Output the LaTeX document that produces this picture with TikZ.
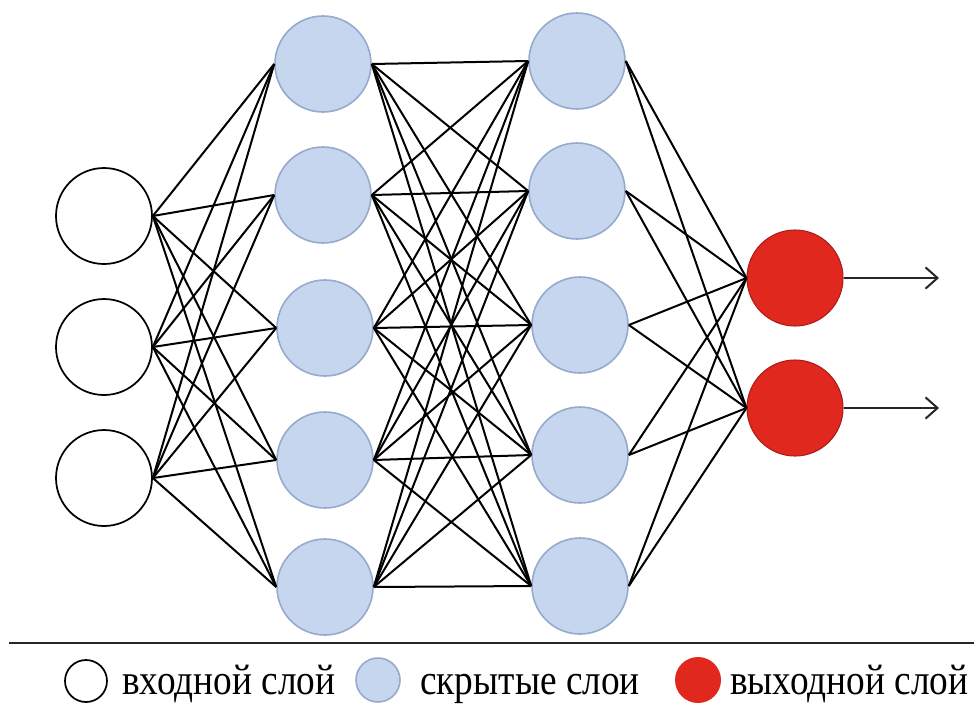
\documentclass[tikz,border=0pt]{standalone}
\usepackage{fontspec}
\usepackage{graphicx}
\setmainfont{Liberation Serif}
\usetikzlibrary{arrows.meta}
\definecolor{bluefill}{RGB}{198,214,238}
\definecolor{blueedge}{RGB}{150,170,205}
\definecolor{redfill}{RGB}{224,40,30}
\definecolor{rededge}{RGB}{170,30,25}
\begin{document}
\begin{tikzpicture}[x=0.75pt,y=-0.75pt,
  inpnode/.style={circle,draw=black,fill=white,line width=1.3pt,minimum size=72pt,inner sep=0pt},
  hidnode/.style={circle,draw=blueedge,fill=bluefill,line width=1.2pt,minimum size=72pt,inner sep=0pt},
  outnode/.style={circle,draw=rededge,fill=redfill,line width=0.8pt,minimum size=72pt,inner sep=0pt},
  conn/.style={draw=black,line width=1.5pt},
  outarrow/.style={draw=black!85,line width=1.5pt,-{Straight Barb[length=9pt,width=16pt,line width=1.5pt]}},
  legtext/.style={anchor=base west,inner sep=0pt,font=\fontsize{28}{30}\selectfont}
]
\useasboundingbox (0,0) rectangle (974,704);

% nodes
\node[inpnode] (i1) at (104,216) {};
\node[inpnode] (i2) at (104,347) {};
\node[inpnode] (i3) at (104,478) {};

\node[hidnode] (a1) at (323,64) {};
\node[hidnode] (a2) at (323,195) {};
\node[hidnode] (a3) at (325,328) {};
\node[hidnode] (a4) at (325,460) {};
\node[hidnode] (a5) at (325,587) {};

\node[hidnode] (b1) at (577,61) {};
\node[hidnode] (b2) at (577,191) {};
\node[hidnode] (b3) at (580,325) {};
\node[hidnode] (b4) at (580,455) {};
\node[hidnode] (b5) at (580,586) {};

\node[outnode] (o1) at (795,278) {};
\node[outnode] (o2) at (795,408) {};

\coordinate (e1) at (939,278);
\coordinate (e2) at (939,408);

% connections
\foreach \i in {1,2,3}{
  \foreach \j in {1,...,5}{
    \draw[conn] (i\i.east) -- (a\j.west);
  }
}
\foreach \i in {1,...,5}{
  \foreach \j in {1,...,5}{
    \draw[conn] (a\i.east) -- (b\j.west);
  }
}
\foreach \i in {1,...,5}{
  \foreach \j in {1,2}{
    \draw[conn] (b\i.east) -- (o\j.west);
  }
}
\draw[outarrow] (o1.east) -- (e1);
\draw[outarrow] (o2.east) -- (e2);

% separator
\coordinate (s1) at (9,643);
\coordinate (s2) at (974,643);
\draw[line width=1.7pt,black!85] (s1) -- (s2);

% legend
\node[circle,draw=black,fill=white,line width=1.3pt,minimum size=31.5pt,inner sep=0pt] (li) at (86,681) {};
\node[legtext] (lit) at (122,694) {\scalebox{1}[1.15]{входной слой}};
\node[circle,draw=blueedge,fill=bluefill,line width=1.2pt,minimum size=33pt,inner sep=0pt] (lh) at (378,680) {};
\node[legtext] (lht) at (420,694) {\scalebox{1}[1.15]{скрытые слои}};
\node[circle,fill=redfill,minimum size=34.5pt,inner sep=0pt] (lo) at (698,680) {};
\node[legtext] (lot) at (730,694) {\scalebox{1}[1.15]{выходной слой}};
\end{tikzpicture}
\end{document}
